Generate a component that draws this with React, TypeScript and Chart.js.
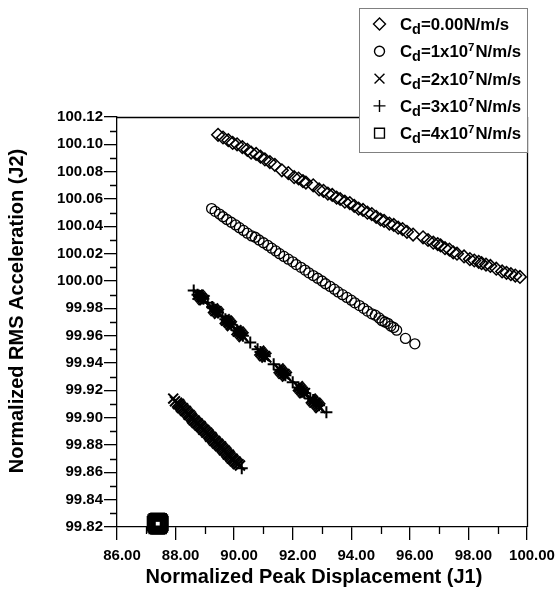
import React, { useEffect, useRef } from "react";
import { Chart, registerables } from "chart.js";
import { drawPoint } from "chart.js/helpers";

Chart.register(...registerables);

// ---- axis ticks ----
const xTicks = [86, 88, 90, 92, 94, 96, 98, 100];
const xMinorTicks = [87, 89, 91, 93, 95, 97, 99];
const yTicks = [99.82, 99.84, 99.86, 99.88, 99.9, 99.92, 99.94, 99.96, 99.98, 100.0, 100.02, 100.04, 100.06, 100.08, 100.1, 100.12];
const yMinorTicks = [99.83, 99.85, 99.87, 99.89, 99.91, 99.93, 99.95, 99.97, 99.99, 100.01, 100.03, 100.05, 100.07, 100.09, 100.11];

const xTitle = "Normalized Peak Displacement (J1)";
const yTitle = "Normalized RMS Acceleration (J2)";

// ---- Cd = 0.00 (diamonds) ----
const cd0X = [89.45, 89.62, 89.8, 89.95, 90.1, 90.28, 90.45, 90.58, 90.75, 90.9, 91.05, 91.22, 91.39,
  91.63, 91.85, 92.05, 92.2, 92.35, 92.45, 92.7, 92.9, 93.05, 93.2, 93.35, 93.5, 93.62, 93.78, 93.95, 94.1, 94.25, 94.4, 94.55, 94.7, 94.85, 95.0, 95.12, 95.3, 95.45, 95.6, 95.75, 95.9, 96.11,
  96.45, 96.62, 96.8, 96.95, 97.05, 97.2, 97.35, 97.48, 97.61,
  97.85, 98.05, 98.2, 98.35, 98.45, 98.6, 98.75, 98.95, 99.15, 99.3, 99.45, 99.6, 99.76];
const cd0Y = [100.107, 100.105, 100.103, 100.101, 100.1, 100.098, 100.096, 100.094, 100.093, 100.091, 100.089, 100.087, 100.085,
  100.081, 100.079, 100.076, 100.075, 100.073, 100.072, 100.07, 100.067, 100.066, 100.064, 100.063, 100.061, 100.06, 100.058, 100.057, 100.055, 100.053, 100.052, 100.05, 100.049, 100.047, 100.045, 100.044, 100.042, 100.041, 100.039, 100.038, 100.036, 100.034,
  100.032, 100.03, 100.028, 100.027, 100.026, 100.024, 100.023, 100.021, 100.02,
  100.018, 100.016, 100.015, 100.014, 100.013, 100.012, 100.011, 100.009, 100.007, 100.006, 100.005, 100.004, 100.003];

// ---- Cd = 1x10^7 (circles) ----
const cd1X = [89.23, 89.35, 89.5, 89.62, 89.75, 89.9, 90.05, 90.18, 90.32, 90.45, 90.6, 90.72, 90.85, 91.0, 91.15, 91.28, 91.42, 91.55, 91.7, 91.85, 92.0, 92.12, 92.28, 92.42, 92.55, 92.7, 92.85, 93.0, 93.12, 93.28, 93.42, 93.55, 93.7, 93.85, 94.0, 94.12, 94.28, 94.42, 94.55, 94.7, 94.82, 94.95, 95.05, 95.15, 95.25, 95.35, 95.45, 95.55, 95.85, 96.17];
const cd1Y = [100.053, 100.051, 100.049, 100.047, 100.045, 100.043, 100.041, 100.039, 100.037, 100.035, 100.033, 100.032, 100.03, 100.028, 100.026, 100.024, 100.022, 100.02, 100.018, 100.016, 100.014, 100.012, 100.01, 100.008, 100.006, 100.004, 100.002, 100.0, 99.998, 99.996, 99.994, 99.992, 99.99, 99.988, 99.986, 99.984, 99.982, 99.98, 99.978, 99.976, 99.975, 99.973, 99.971, 99.97, 99.969, 99.967, 99.966, 99.964, 99.958, 99.954];

// ---- Cd = 2x10^7 (crosses x) ----
const cd2X = [
  87.92, 87.98, 88.05, 88.08, 88.12, 88.15, 88.18, 88.22, 88.25, 88.28, 88.32, 88.35, 88.38, 88.42, 88.45, 88.48, 88.52, 88.55, 88.58, 88.62, 88.65, 88.68, 88.72, 88.75, 88.78, 88.82, 88.85, 88.88, 88.92, 88.95, 88.98, 89.02, 89.05, 89.08, 89.12, 89.15, 89.18, 89.22, 89.25, 89.28, 89.32, 89.35, 89.38, 89.42, 89.45, 89.48, 89.52, 89.55, 89.58, 89.62, 89.65, 89.68, 89.72, 89.75, 89.78, 89.82, 89.85, 89.88, 89.92, 89.95, 89.98, 90.02, 90.05, 90.08, 90.12, 90.15, 90.2,
  88.75, 88.79, 88.83, 88.87, 88.91, 88.95, 88.99,
  89.28, 89.32, 89.36, 89.4, 89.44, 89.48,
  89.68, 89.72, 89.76, 89.8, 89.84, 89.88, 89.92,
  90.08, 90.12, 90.16, 90.2, 90.24, 90.28, 90.32,
  90.86, 90.9, 90.94, 90.98, 91.02, 91.06, 91.1,
  91.52, 91.56, 91.6, 91.64, 91.68, 91.72, 91.76, 91.8,
  92.18, 92.22, 92.26, 92.3, 92.34, 92.38, 92.42,
  92.62, 92.66, 92.7, 92.74, 92.78, 92.82, 92.86, 92.9, 92.94];
const cd2Y = [
  99.914, 99.912, 99.911, 99.91, 99.91, 99.909, 99.908, 99.907, 99.907, 99.906, 99.905, 99.905, 99.904, 99.903, 99.902, 99.902, 99.901, 99.9, 99.899, 99.898, 99.898, 99.897, 99.896, 99.896, 99.895, 99.894, 99.894, 99.893, 99.892, 99.891, 99.891, 99.89, 99.889, 99.889, 99.888, 99.887, 99.886, 99.886, 99.885, 99.884, 99.883, 99.883, 99.882, 99.881, 99.881, 99.88, 99.879, 99.879, 99.878, 99.877, 99.876, 99.876, 99.875, 99.874, 99.873, 99.873, 99.872, 99.871, 99.87, 99.87, 99.869, 99.868, 99.868, 99.867, 99.866, 99.866, 99.865,
  99.99, 99.99, 99.989, 99.988, 99.987, 99.986, 99.986,
  99.98, 99.979, 99.978, 99.978, 99.977, 99.976,
  99.972, 99.971, 99.971, 99.97, 99.969, 99.968, 99.967,
  99.964, 99.963, 99.963, 99.962, 99.961, 99.96, 99.959,
  99.949, 99.948, 99.947, 99.946, 99.945, 99.945, 99.944,
  99.936, 99.935, 99.934, 99.933, 99.932, 99.932, 99.931, 99.93,
  99.923, 99.922, 99.921, 99.92, 99.919, 99.918, 99.918,
  99.914, 99.913, 99.912, 99.911, 99.911, 99.91, 99.909, 99.908, 99.907];

// ---- Cd = 3x10^7 (plus) ----
const cd3X = [88.62, 88.75, 88.8, 88.85, 88.9, 88.95, 89.1, 89.25, 89.3, 89.35, 89.4, 89.45, 89.6, 89.7, 89.75, 89.8, 89.85, 89.9, 90.1, 90.15, 90.2, 90.25, 90.3, 90.55, 90.8, 90.9, 90.95, 91.0, 91.05, 91.35, 91.55, 91.6, 91.65, 91.7, 91.75, 92.0, 92.2, 92.25, 92.3, 92.35, 92.4, 92.6, 92.7, 92.75, 92.8, 92.9, 93.15,
  90.26];
const cd3Y = [99.993, 99.99, 99.989, 99.989, 99.988, 99.987, 99.984, 99.981, 99.98, 99.979, 99.978, 99.977, 99.974, 99.972, 99.971, 99.97, 99.969, 99.968, 99.964, 99.963, 99.962, 99.961, 99.96, 99.955, 99.95, 99.948, 99.947, 99.946, 99.945, 99.939, 99.935, 99.934, 99.933, 99.932, 99.931, 99.926, 99.922, 99.921, 99.92, 99.919, 99.918, 99.914, 99.913, 99.912, 99.911, 99.909, 99.904,
  99.863];

// ---- Cd = 4x10^7 (squares) ----
const cd4X = [87.27, 87.29, 87.33, 87.39, 87.45, 87.49, 87.51, 87.49, 87.45, 87.39, 87.33, 87.29];
const cd4Y = [99.8225, 99.8238, 99.8248, 99.8251, 99.8248, 99.8238, 99.8225, 99.8212, 99.8202, 99.8199, 99.8202, 99.8212];

const legendRows = [
  { style: "rectRot", radius: 6, parts: [["C", "n"], ["d", "sub"], ["=0.00N/m/s", "n"]] },
  { style: "circle", radius: 5, parts: [["C", "n"], ["d", "sub"], ["=1x10", "n"], ["7", "sup"], ["N/m/s", "n"]] },
  { style: "crossRot", radius: 7, parts: [["C", "n"], ["d", "sub"], ["=2x10", "n"], ["7", "sup"], ["N/m/s", "n"]] },
  { style: "cross", radius: 6, parts: [["C", "n"], ["d", "sub"], ["=3x10", "n"], ["7", "sup"], ["N/m/s", "n"]] },
  { style: "rect", radius: 7, parts: [["C", "n"], ["d", "sub"], ["=4x10", "n"], ["7", "sup"], ["N/m/s", "n"]] },
];

const FAMILY = "'Liberation Sans', Arial, Helvetica, sans-serif";

const pts = (xs: number[], ys: number[]) => xs.map((x, i) => ({ x, y: ys[i] }));

const decor = {
  id: "decor",
  beforeDatasetsDraw(chart: any) {
    const { ctx, chartArea: a, scales } = chart;
    const sx = scales.x;
    const sy = scales.y;
    ctx.save();
    ctx.strokeStyle = "#000";
    ctx.lineWidth = 1.3;
    ctx.beginPath();
    ctx.moveTo(a.left, a.top + 0.5);
    ctx.lineTo(a.right + 1, a.top + 0.5);
    ctx.moveTo(a.right + 0.5, a.top);
    ctx.lineTo(a.right + 0.5, a.bottom);
    ctx.stroke();
    ctx.lineWidth = 1.3;
    ctx.beginPath();
    for (const v of xMinorTicks) {
      const p = Math.round(sx.getPixelForValue(v)) + 0.5;
      ctx.moveTo(p, a.bottom);
      ctx.lineTo(p, a.bottom + 7);
    }
    for (const v of yMinorTicks) {
      const p = Math.round(sy.getPixelForValue(v)) + 0.5;
      ctx.moveTo(a.left, p);
      ctx.lineTo(a.left - 7, p);
    }
    ctx.stroke();
    ctx.restore();
  },
  afterDraw(chart: any) {
    const { ctx, chartArea: a } = chart;
    ctx.save();
    ctx.fillStyle = "#000";
    ctx.font = `bold 20px ${FAMILY}`;
    ctx.textAlign = "center";
    ctx.textBaseline = "middle";
    ctx.fillText(xTitle, 314, 577);
    ctx.translate(17.5, 311);
    ctx.rotate(-Math.PI / 2);
    ctx.fillText(yTitle, 0, 0);
    ctx.restore();

    // legend
    ctx.save();
    const L = 359.5, T = 8.5, R = a.right + 0.5, B = 152.5;
    ctx.fillStyle = "#fff";
    ctx.fillRect(L, T, R - L, B - T);
    ctx.strokeStyle = "#808080";
    ctx.lineWidth = 1;
    ctx.strokeRect(L, T, R - L, B - T);
    legendRows.forEach((row, i) => {
      const cy = 24 + i * 27.3;
      ctx.strokeStyle = "#000";
      ctx.fillStyle = "rgba(0,0,0,0)";
      ctx.lineWidth = 1.4;
      drawPoint(ctx, { pointStyle: row.style, radius: row.radius, rotation: 0, borderWidth: 1.4 }, 379.5, cy);
      let x = 400;
      const base = cy + 6;
      ctx.fillStyle = "#000";
      ctx.textAlign = "left";
      ctx.textBaseline = "alphabetic";
      for (const [t, k] of row.parts) {
        let size = 16.8, dy = 0;
        if (k === "sub") { size = 14.5; dy = 4; }
        if (k === "sup") { size = 11.5; dy = -6; }
        ctx.font = `bold ${size}px ${FAMILY}`;
        ctx.fillText(t, x, base + dy);
        x += ctx.measureText(t).width + (k === "sup" ? 1 : 0);
      }
    });
    ctx.restore();
  },
};

const tickFont = { family: FAMILY, size: 15, weight: "bold" as const };

export default function App() {
  const ref = useRef<HTMLCanvasElement | null>(null);
  useEffect(() => {
    if (!ref.current) return;
    const common = { showLine: false, clip: false as any, borderColor: "#000", backgroundColor: "rgba(0,0,0,0)", pointBorderColor: "#000", pointBackgroundColor: "rgba(0,0,0,0)" };
    const chart = new Chart(ref.current, {
      type: "scatter",
      data: {
        datasets: [
          { ...common, label: "Cd=0.00N/m/s", data: pts(cd0X, cd0Y), pointStyle: "rectRot", pointRadius: 6.3, pointBorderWidth: 1.5 },
          { ...common, label: "Cd=1x10^7N/m/s", data: pts(cd1X, cd1Y), pointStyle: "circle", pointRadius: 5, pointBorderWidth: 1.3 },
          { ...common, label: "Cd=2x10^7N/m/s", data: pts(cd2X, cd2Y), pointStyle: "crossRot", pointRadius: 7, pointBorderWidth: 2 },
          { ...common, label: "Cd=3x10^7N/m/s", data: pts(cd3X, cd3Y), pointStyle: "cross", pointRadius: 6, pointBorderWidth: 2 },
          { ...common, label: "Cd=4x10^7N/m/s", data: pts(cd4X, cd4Y), pointStyle: "rect", pointRadius: 9.2, pointBorderWidth: 2 },
        ] as any,
      },
      options: {
        animation: false,
        responsive: false,
        events: [],
        layout: { padding: { top: 117, right: 33, left: 0, bottom: 0 } },
        plugins: { legend: { display: false }, tooltip: { enabled: false } },
        scales: {
          x: {
            type: "linear",
            min: 86,
            max: 100,
            afterBuildTicks: (s: any) => { s.ticks = xTicks.map((v) => ({ value: v })); },
            afterFit: (s: any) => { s.height = 63; },
            grid: { drawOnChartArea: false, drawTicks: true, tickLength: 13, color: "#000", lineWidth: 1.3 },
            border: { color: "#000", width: 1.3 },
            ticks: { color: "#000", font: tickFont, padding: 7, labelOffset: 5, maxRotation: 0, autoSkip: false, callback: (v: any) => Number(v).toFixed(2) },
          },
          y: {
            type: "linear",
            min: 99.82,
            max: 100.12,
            afterBuildTicks: (s: any) => { s.ticks = yTicks.map((v) => ({ value: v })); },
            afterFit: (s: any) => { s.width = 117; },
            grid: { drawOnChartArea: false, drawTicks: true, tickLength: 13, color: "#000", lineWidth: 1.3 },
            border: { color: "#000", width: 1.3 },
            ticks: { color: "#000", font: tickFont, padding: 1, autoSkip: false, callback: (v: any) => Number(v).toFixed(2) },
          },
        },
      } as any,
      plugins: [decor],
    });
    return () => chart.destroy();
  }, []);
  return (
    <div style={{ position: "fixed", left: 0, top: 0, width: 560, height: 590, background: "#fff" }}>
      <canvas ref={ref} width={560} height={590} style={{ width: 560, height: 590, display: "block" }} />
    </div>
  );
}
